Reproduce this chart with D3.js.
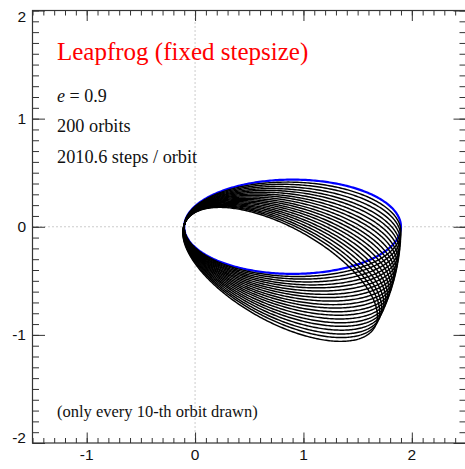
<!DOCTYPE html>
<html>
<head>
<meta charset="utf-8">
<script src="https://cdn.jsdelivr.net/npm/d3@7"></script>
<style>
  html, body { margin: 0; padding: 0; background: #fff; }
  svg { display: block; }
</style>
</head>
<body>
<div id="chart"></div>
<script>
// Leapfrog orbit precession: e = 0.9, a = 1, star at the origin (focus).
// Each drawn orbit is the same Kepler ellipse, rotated clockwise by its precession angle.

const ECCENTRICITY = 0.9;
const SEMI_MAJOR = 1.0;
const ORBIT_NUMBERS = [0, 10, 20, 30, 40, 50, 60, 70, 80, 90, 100,
                       110, 120, 130, 140, 150, 160, 170, 180, 190, 200];
// apsidal angle (deg, clockwise) for each drawn orbit
const PRECESSION_DEG = [0, 1.5, 2.9, 4.4, 5.9, 7.3, 8.8, 10.3, 11.7, 13.2, 14.7,
                        16.1, 17.6, 19.0, 20.5, 22.0, 23.4, 24.9, 26.4, 27.8, 29.3];
const X_TICKS = [-1, 0, 1, 2];
const Y_TICKS = [-2, -1, 0, 1, 2];
const TITLE = "Leapfrog (fixed stepsize)";
const INFO_LINES = ["200 orbits", "2010.6 steps / orbit"];
const FOOTNOTE = "(only every 10-th orbit drawn)";

const W = 465, H = 469;
const x = d3.scaleLinear().domain([-1.5, 2.5]).range([32.5, 466]);
const y = d3.scaleLinear().domain([-2, 2]).range([443, 10.5]);

const svg = d3.select("#chart").append("svg").attr("width", W).attr("height", H);
svg.append("rect").attr("width", W).attr("height", H).attr("fill", "#fff");

// dotted zero lines
svg.append("line").attr("x1", x(0)).attr("x2", x(0)).attr("y1", y(2)).attr("y2", y(-2))
  .attr("stroke", "#999").attr("stroke-dasharray", "1,3");
svg.append("line").attr("x1", x(-1.5)).attr("x2", x(2.5)).attr("y1", y(0)).attr("y2", y(0))
  .attr("stroke", "#999").attr("stroke-dasharray", "1,3");

// orbit outline for a given rotation
function orbitPoints(deg) {
  const th = deg * Math.PI / 180;
  const a = SEMI_MAJOR, e = ECCENTRICITY, b = a * Math.sqrt(1 - e * e);
  const ux = Math.cos(th), uy = -Math.sin(th);   // major-axis direction (towards aphelion)
  const vx = Math.sin(th), vy = Math.cos(th);
  const cx = a * e * ux, cy = a * e * uy;        // ellipse centre, focus at origin
  return d3.range(0, 361).map((i) => {
    const t = i * Math.PI / 180;
    return [cx + a * Math.cos(t) * ux + b * Math.sin(t) * vx,
            cy + a * Math.cos(t) * uy + b * Math.sin(t) * vy];
  });
}
const line = d3.line().x((p) => x(p[0])).y((p) => y(p[1]));

const orbits = ORBIT_NUMBERS.map((n, i) => ({ n, deg: PRECESSION_DEG[i] }));
const g = svg.append("g");
g.append("path").datum(orbitPoints(orbits[0].deg)).attr("d", line)
  .attr("fill", "none").attr("stroke", "#0000ff").attr("stroke-width", 2.2);
g.selectAll("path.orbit").data(orbits.slice(1)).enter().append("path").attr("class", "orbit")
  .attr("d", (o) => line(orbitPoints(o.deg)))
  .attr("fill", "none").attr("stroke", "#000").attr("stroke-width", 1.45);

// frame + ticks (inward, IDL style)
const minor = d3.range(-15, 26).map((v) => v / 10);
const minorY = d3.range(-20, 21).map((v) => v / 10);
const styleAxis = (s) => { s.select(".domain").remove(); s.selectAll("line").attr("stroke", "#333"); };
svg.append("g").attr("transform", `translate(0,${y(-2)})`)
  .call(d3.axisBottom(x).tickValues(minor).tickSize(-5).tickFormat("")).call(styleAxis);
svg.append("g").attr("transform", `translate(0,${y(-2)})`)
  .call(d3.axisBottom(x).tickValues(X_TICKS).tickSize(-10.5).tickFormat("")).call(styleAxis);
svg.append("g").attr("transform", `translate(0,${y(2)})`)
  .call(d3.axisTop(x).tickValues(minor).tickSize(-5).tickFormat("")).call(styleAxis);
svg.append("g").attr("transform", `translate(0,${y(2)})`)
  .call(d3.axisTop(x).tickValues(X_TICKS).tickSize(-10.5).tickFormat("")).call(styleAxis);
svg.append("g").attr("transform", `translate(${x(-1.5)},0)`)
  .call(d3.axisLeft(y).tickValues(minorY).tickSize(-6.5).tickFormat("")).call(styleAxis);
svg.append("g").attr("transform", `translate(${x(-1.5)},0)`)
  .call(d3.axisLeft(y).tickValues(Y_TICKS).tickSize(-12.5).tickFormat("")).call(styleAxis);
svg.append("g").attr("transform", `translate(${x(2.5)},0)`)
  .call(d3.axisRight(y).tickValues(minorY).tickSize(-6.5).tickFormat("")).call(styleAxis);
svg.append("g").attr("transform", `translate(${x(2.5)},0)`)
  .call(d3.axisRight(y).tickValues(Y_TICKS).tickSize(-12.5).tickFormat("")).call(styleAxis);
svg.append("rect").attr("x", x(-1.5)).attr("y", y(2)).attr("width", x(2.5) - x(-1.5)).attr("height", y(-2) - y(2))
  .attr("fill", "none").attr("stroke", "#333").attr("stroke-width", 1.2);

// tick labels
const sans = "'Liberation Sans', Arial, Helvetica, sans-serif";
svg.selectAll("text.xl").data(X_TICKS).enter().append("text").attr("class", "xl")
  .attr("x", (v) => x(v)).attr("y", 460).attr("text-anchor", "middle")
  .attr("font-family", sans).attr("font-size", 15.5).attr("fill", "#111")
  .text((v) => String(v));
svg.selectAll("text.yl").data(Y_TICKS).enter().append("text").attr("class", "yl")
  .attr("x", 26).attr("y", (v) => Math.min(Math.max(y(v), 16), 437.5) + 5.5).attr("text-anchor", "end")
  .attr("font-family", sans).attr("font-size", 15.5).attr("fill", "#111")
  .text((v) => String(v));

// annotations
const serif = "'Liberation Serif', 'Times New Roman', Times, serif";
svg.append("text").attr("x", 57).attr("y", 60).attr("font-family", serif).attr("font-size", 25)
  .attr("fill", "#ff0000").text(TITLE);
const eq = svg.append("text").attr("x", 57).attr("y", 101.5).attr("font-family", serif).attr("font-size", 18).attr("fill", "#111");
eq.append("tspan").attr("font-style", "italic").text("e");
eq.append("tspan").text(" = " + ECCENTRICITY);
svg.selectAll("text.info").data(INFO_LINES).enter().append("text").attr("class", "info")
  .attr("x", 57).attr("y", (d, i) => 132 + i * 31).attr("font-family", serif).attr("font-size", 18.3)
  .attr("fill", "#111").text((d) => d);
svg.append("text").attr("x", 57).attr("y", 417).attr("font-family", serif).attr("font-size", 16.5)
  .attr("fill", "#111").text(FOOTNOTE);
</script>
</body>
</html>
